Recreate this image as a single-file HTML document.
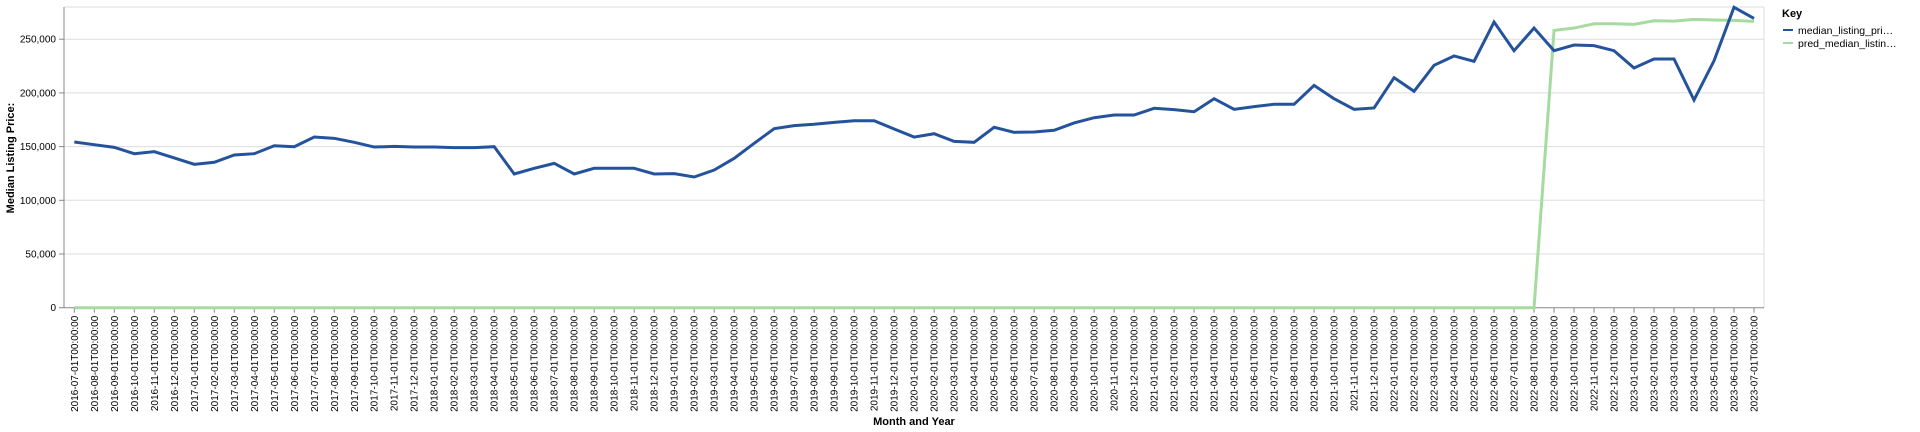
<!DOCTYPE html>
<html><head><meta charset="utf-8">
<style>
html,body{margin:0;padding:0;background:#fff;}
svg{display:block;font-family:"Liberation Sans",Arial,sans-serif;}
</style></head>
<body>
<svg id="chart" width="1920" height="432" viewBox="0 0 1920 432" xmlns="http://www.w3.org/2000/svg">
<g id="grid"></g>
<g id="yaxis"></g>
<g id="xaxis"></g>
<g id="series"></g>
<text transform="translate(14,158) rotate(-90)" text-anchor="middle" font-size="11" font-weight="bold" fill="#000">Median Listing Price:</text>
<text x="914" y="425" text-anchor="middle" font-size="11" font-weight="bold" fill="#000">Month and Year</text>
<g>
<text x="1782" y="17" font-size="11" font-weight="bold" fill="#000">Key</text>
<g>
<line x1="1783" y1="30" x2="1793" y2="30" stroke="#24539c" stroke-width="2"/>
<text x="1798" y="34" font-size="10.5" fill="#000">median_listing_pri…</text>
</g>
<g>
<line x1="1783" y1="43" x2="1793" y2="43" stroke="#a6dba0" stroke-width="2"/>
<text x="1798" y="47" font-size="10.5" fill="#000">pred_median_listin…</text>
</g>
</g>
</svg>
<script>
const medianValues=[154.3,151.8,149.3,143.4,145.3,139.4,133.5,135.4,142.2,143.4,150.8,149.9,158.9,157.7,154,149.6,150.2,149.6,149.6,149,149,
149.9,124.5,129.8,134.4,124.5,129.8,129.8,129.8,124.5,124.8,121.7,128.2,139.1,153.1,166.7,169.5,170.8,172.6,174.1,174.1,166.4,158.9,162,154.9,
154,168,163.3,163.6,165.2,172,176.9,179.4,179.4,185.7,184.4,182.5,194.6,184.7,187.2,189.4,189.4,207,194.6,184.7,186,214.2,201.5,225.7,
234.4,229.4,266,239.3,260.4,239.3,244.6,244,239.3,223.2,231.6,231.6,193.4,229.9,279.7,269.4].map(v=>v*1000);
const predValues=[0,0,0,0,0,0,0,0,0,0,0,0,0,0,0,0,0,0,0,0,0,0,0,0,0,0,0,0,0,0,0,0,0,0,0,0,0,0,0,0,0,0,0,0,0,0,0,0,0,0,0,0,0,0,0,0,0,0,0,0,0,0,0,0,0,0,0,0,0,0,0,0,0,0,
258.2,260.4,264.4,264.4,263.8,267.2,266.9,268.5,267.9,267.6,266.6].map(v=>v*1000);
const yTicks=[0,50000,100000,150000,200000,250000];
const startYear=2016,startMonth=7;
const categories=[];
for(let i=0;i<medianValues.length;i++){const m=startMonth-1+i;const y=startYear+Math.floor(m/12);const mm=(m%12)+1;categories.push(y+'-'+String(mm).padStart(2,'0')+'-01T00:00:00');}

const NS='http://www.w3.org/2000/svg';
const L=64,R=1764,T=7,B=307.7,YMAX=280000;
const x0=74.3,step=(1754-74.3)/(categories.length-1);
const xs=i=>x0+i*step;
const ys=v=>B-(v/YMAX)*(B-T);
function mk(tag,attrs,parent){const e=document.createElementNS(NS,tag);for(const k in attrs)e.setAttribute(k,attrs[k]);parent.appendChild(e);return e;}
const grid=document.getElementById('grid'),ya=document.getElementById('yaxis'),xa=document.getElementById('xaxis'),ser=document.getElementById('series');
mk('line',{x1:L,y1:T,x2:R,y2:T,stroke:'#ddd'},grid);
mk('line',{x1:R,y1:T,x2:R,y2:B,stroke:'#ddd'},grid);
yTicks.forEach(v=>{
  const y=ys(v);
  if(v>0){const g=mk('line',{x1:L,y1:y,x2:R,y2:y,stroke:'#ddd'},grid);
  
  }
  mk('line',{x1:L-5,y1:y,x2:L,y2:y,stroke:'#888'},ya);
  const t=mk('text',{x:L-8,y:y+3.5,'text-anchor':'end','font-size':'10',fill:'#000'},ya);
  
  
  t.textContent=v.toLocaleString('en-US');
});
mk('line',{x1:L,y1:T,x2:L,y2:B,stroke:'#888'},ya);
mk('line',{x1:L,y1:B,x2:R,y2:B,stroke:'#888'},xa);
categories.forEach((c,i)=>{
  const x=xs(i);
  mk('line',{x1:x,y1:B,x2:x,y2:B+5,stroke:'#888'},xa);
  const t=mk('text',{transform:`translate(${x+3.5},${B+8}) rotate(-90)`,'text-anchor':'end','font-size':'10',fill:'#000'},xa);
  
  
  t.textContent=c;
});
function line(vals,color,name){
  const d=vals.map((v,i)=>(i?'L':'M')+xs(i).toFixed(2)+','+ys(v).toFixed(2)).join('');
  const p=mk('path',{d:d,fill:'none',stroke:color,'stroke-width':3,'stroke-linejoin':'miter'},ser);
  
  
}
line(predValues,'#a6dba0','pred-median-line');
line(medianValues,'#24539c','median-listing-price-line');
</script>
</body></html>
